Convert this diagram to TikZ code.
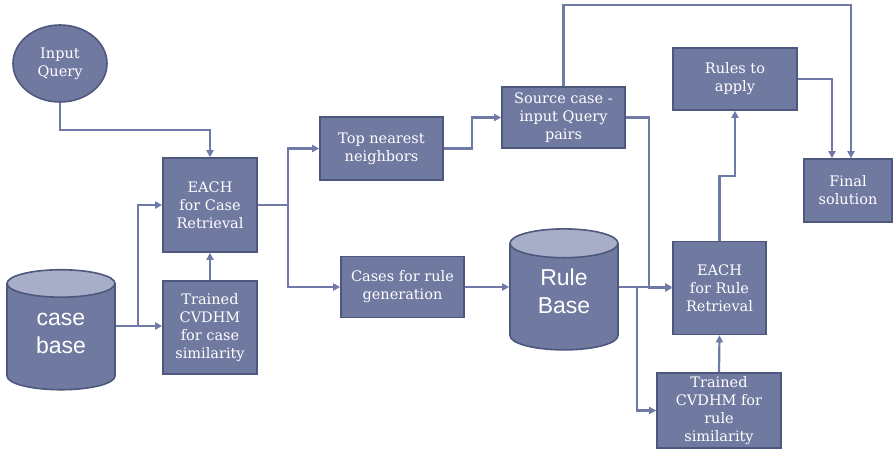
\documentclass[tikz,border=0pt]{standalone}
\usepackage{fontspec}
\setmainfont{DejaVu Serif}
\newfontfamily\cylfont{Liberation Sans}
\usetikzlibrary{arrows.meta,shapes.geometric}

\definecolor{boxfill}{RGB}{112,121,160}
\definecolor{boxline}{RGB}{78,87,126}
\definecolor{flowline}{RGB}{111,122,168}
\definecolor{captop}{RGB}{168,174,200}

\tikzset{
  box/.style={draw=boxline, line width=1.6pt, fill=boxfill, text=white,
    inner sep=0pt, align=center, font=\fontsize{14.5}{18}\selectfont},
  store/.style={cylinder, shape border rotate=90, draw=boxline,
    line width=1.6pt, cylinder uses custom fill, cylinder body fill=boxfill,
    cylinder end fill=captop, text=white, inner sep=0pt, align=center,
    text height=34pt, aspect=0.55,
    font=\cylfont\fontsize{23}{28}\selectfont},
  flow/.style={draw=flowline, line width=2.2pt,
    -{Triangle[length=7pt,width=7pt]}},
  wire/.style={draw=flowline, line width=2.2pt}
}

\begin{document}
\begin{tikzpicture}[x=1pt,y=-1pt]

  \useasboundingbox (0,0) rectangle (894,452);

  %% sources
  \node[box, ellipse, minimum width=94pt, minimum height=77pt]
    (query) at (60,63.5) {Input\\Query};
  \node[store, minimum width=108pt, minimum height=120pt]
    (casebase) at (61,337) {case\\base};

  %% case retrieval
  \node[box, minimum width=94pt, minimum height=94pt]
    (eachcase) at (210,205) {EACH\\for Case\\Retrieval};
  \node[box, minimum width=94pt, minimum height=93pt]
    (trcase) at (210,327.5) {Trained\\CVDHM\\for case\\similarity};
  \node[box, minimum width=123pt, minimum height=63pt]
    (topnn) at (381.5,148.5) {Top nearest\\neighbors};
  \node[box, minimum width=123pt, minimum height=61pt]
    (rulegen) at (402.5,287) {Cases for rule\\generation};
  \node[box, minimum width=123pt, minimum height=61pt]
    (srcpair) at (563.5,117.5) {Source case -\\input Query\\pairs};

  %% rule retrieval
  \node[store, minimum width=108pt, minimum height=121pt]
    (rulebase) at (564,297) {Rule\\Base};
  \node[box, minimum width=93pt, minimum height=93pt]
    (eachrule) at (719.5,288) {EACH\\for Rule\\Retrieval};
  \node[box, minimum width=124pt, minimum height=75pt]
    (trrule) at (719,410.5) {Trained\\CVDHM for\\rule\\similarity};
  \node[box, minimum width=124pt, minimum height=62pt]
    (rulesapply) at (735,79) {Rules to\\apply};
  \node[box, minimum width=88pt, minimum height=63pt]
    (final) at (848,190.5) {Final\\solution};

  %% bends and splits
  \coordinate (qbend) at (210,130);
  \coordinate (cbsplit) at (138,326);
  \coordinate (ecsplit) at (288,205);
  \coordinate (tnbend) at (472,148.5);
  \coordinate (topturn) at (851,5);
  \coordinate (rabend) at (832,79);
  \coordinate (spbend) at (649,117.5);
  \coordinate (rbsplit) at (637,287);
  \coordinate (erbend) at (719.5,176);

  \draw[flow] (query.south) |- (qbend) -- (eachcase.north);
  \draw[flow] (casebase.east |- cbsplit) -- (trcase.west |- cbsplit);
  \draw[flow] (cbsplit) |- (eachcase.west);
  \draw[flow] (trcase.north) -- (eachcase.south);

  \draw[wire] (eachcase.east) -- (ecsplit);
  \draw[flow] (ecsplit) |- (topnn.west);
  \draw[flow] (ecsplit) |- (rulegen.west);
  \draw[flow] (topnn.east) -- (tnbend) |- (srcpair.west);
  \draw[flow] (rulegen.east) -- (rulegen.east -| rulebase.west);

  \draw[flow] (srcpair.north) |- (topturn) -- (topturn |- final.north);
  \draw[flow] (rulesapply.east) -- (rabend) -- (rabend |- final.north);
  \draw[flow] (srcpair.east) -- (spbend) |- (eachrule.west);
  \draw[flow] (rulebase.east |- rbsplit) -- (eachrule.west |- rbsplit);
  \draw[flow] (rbsplit) |- (trrule.west);
  \draw[flow] (trrule.north) -- (eachrule.south);
  \draw[flow] (eachrule.north) -- (erbend) -| (rulesapply.south);

\end{tikzpicture}
\end{document}
